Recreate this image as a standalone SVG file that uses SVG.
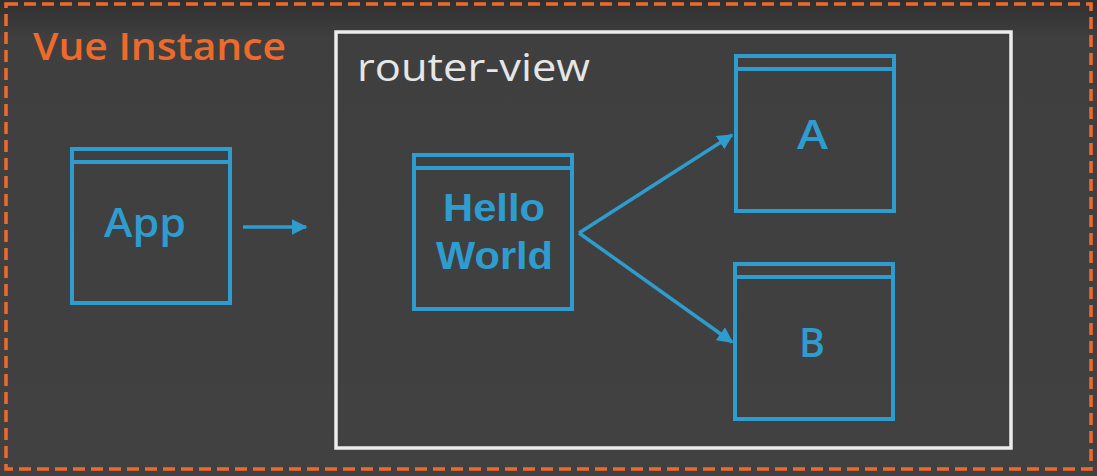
<svg xmlns="http://www.w3.org/2000/svg" width="1097" height="476" viewBox="0 0 1097 476">
<defs>
<linearGradient id="bg" x1="0" y1="0" x2="0" y2="1">
<stop offset="0" stop-color="#2f2f2f"/>
<stop offset="0.08" stop-color="#3f3f3f"/>
<stop offset="1" stop-color="#414141"/>
</linearGradient>
<marker id="ah" viewBox="0 0 10 10" refX="9" refY="5" markerWidth="4.5" markerHeight="4.5" markerUnits="strokeWidth" orient="auto">
<path d="M0,0 L10,5 L0,10 z" fill="#2e9cce"/>
</marker>
<style>
.box{fill:none;stroke:#2e9cce;stroke-width:4}
.lbl{font-family:"Open Sans","Liberation Sans",sans-serif;font-weight:600;fill:#2e9cce;font-size:40px}
.hw{font-family:"Liberation Sans",sans-serif;font-weight:bold;fill:#2e9cce;font-size:38px}
.con{stroke:#2e9cce;stroke-width:3.5;fill:none}
</style>
</defs>
<rect width="1097" height="476" fill="url(#bg)"/>
<g id="vue-instance">
<rect x="6" y="4" width="1085" height="465" fill="none" stroke="#ee6a2c" stroke-width="3.5" stroke-dasharray="12 6"/>
<text x="33" y="60" font-family="'Open Sans', 'Liberation Sans', sans-serif" font-weight="600" font-size="38" fill="#ee6a2c" textLength="253" lengthAdjust="spacingAndGlyphs">Vue Instance</text>
</g>
<g id="router-view">
<rect x="336" y="32" width="675" height="416" fill="none" stroke="#ececec" stroke-width="3.5"/>
<text x="357" y="81" font-family="'Open Sans', 'Liberation Sans', sans-serif" font-size="38" fill="#e6e6e6" textLength="233" lengthAdjust="spacingAndGlyphs">router-view</text>
</g>
<g id="app">
<rect class="box" x="72" y="149" width="158" height="154"/>
<line class="box" x1="72" y1="162" x2="230" y2="162"/>
<text class="lbl" x="104" y="237" textLength="82" lengthAdjust="spacingAndGlyphs">App</text>
</g>
<g id="hello-world">
<rect class="box" x="414" y="155" width="158" height="154"/>
<line class="box" x1="414" y1="168" x2="572" y2="168"/>
<text class="hw" x="443" y="221" textLength="102" lengthAdjust="spacingAndGlyphs">Hello</text>
<text class="hw" x="436" y="269" textLength="117" lengthAdjust="spacingAndGlyphs">World</text>
</g>
<g id="a">
<rect class="box" x="736" y="56" width="158" height="155"/>
<line class="box" x1="736" y1="69" x2="894" y2="69"/>
<text class="lbl" x="797" y="149" font-size="38" textLength="31" lengthAdjust="spacingAndGlyphs">A</text>
</g>
<g id="b">
<rect class="box" x="735" y="264" width="158" height="155"/>
<line class="box" x1="735" y1="277" x2="893" y2="277"/>
<text class="lbl" x="799" y="357" font-size="38" textLength="26" lengthAdjust="spacingAndGlyphs">B</text>
</g>
<g id="connectors">
<line class="con" x1="243" y1="227" x2="306" y2="227" marker-end="url(#ah)"/>
<line class="con" x1="579" y1="233" x2="732" y2="135" marker-end="url(#ah)"/>
<line class="con" x1="579" y1="233" x2="732" y2="342" marker-end="url(#ah)"/>
</g>
</svg>
